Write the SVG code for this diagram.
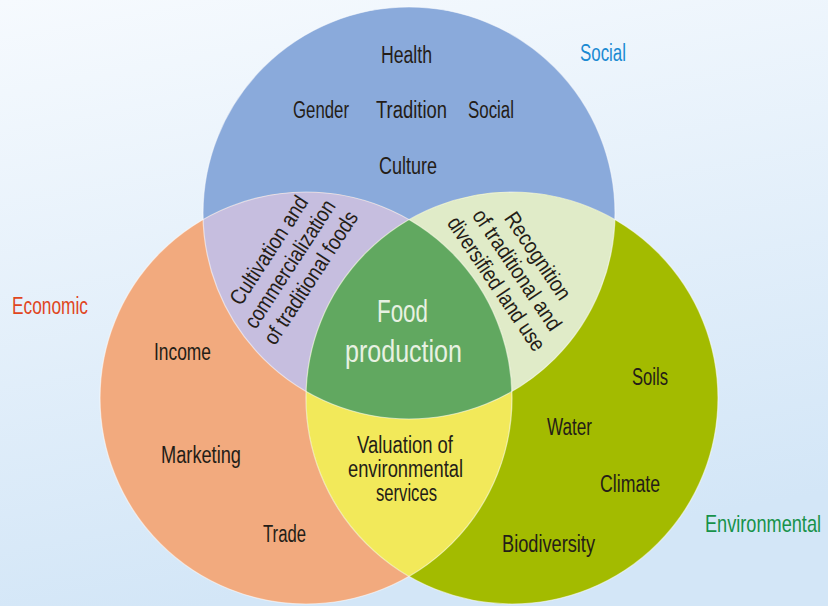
<svg xmlns="http://www.w3.org/2000/svg" width="828" height="606" viewBox="0 0 828 606">
<defs>
<linearGradient id="bg" x1="0" y1="0" x2="0.25" y2="1">
<stop offset="0" stop-color="#f6fafe"/>
<stop offset="1" stop-color="#d3e6f7"/>
</linearGradient>
<clipPath id="cTop"><circle cx="409" cy="213" r="206"/></clipPath>
<clipPath id="cLeft"><circle cx="306" cy="398" r="206"/></clipPath>
<clipPath id="cRight"><circle cx="512" cy="398" r="206"/></clipPath>
<style>
text{font-family:"Liberation Sans Narrow","Liberation Sans",Arial,sans-serif;font-size:23px;fill:#241d17;text-anchor:middle}
.big{font-size:31px;fill:#e8f1e2}
.rot{font-size:22px}
.edge{fill:none;stroke:#ffffff;stroke-opacity:0.55;stroke-width:1.2}
</style>
</defs>
<rect width="828" height="606" fill="url(#bg)"/>

<g id="social">
<circle cx="409" cy="213" r="206" fill="#8aaadb"/>
<text x="406.5" y="63" textLength="51" lengthAdjust="spacingAndGlyphs">Health</text>
<text x="321" y="118" textLength="56" lengthAdjust="spacingAndGlyphs">Gender</text>
<text x="411.5" y="118" textLength="71" lengthAdjust="spacingAndGlyphs">Tradition</text>
<text x="491" y="118" textLength="46" lengthAdjust="spacingAndGlyphs">Social</text>
<text x="408" y="174" textLength="58" lengthAdjust="spacingAndGlyphs">Culture</text>
</g>

<g id="economic">
<circle cx="306" cy="398" r="206" fill="#f2aa7e"/>
<text x="182.5" y="360" textLength="57" lengthAdjust="spacingAndGlyphs">Income</text>
<text x="201" y="463" textLength="80" lengthAdjust="spacingAndGlyphs">Marketing</text>
<text x="284.5" y="542" textLength="43" lengthAdjust="spacingAndGlyphs">Trade</text>
</g>

<g id="environmental">
<circle cx="512" cy="398" r="206" fill="#a3bb00"/>
<text x="650" y="385" textLength="36" lengthAdjust="spacingAndGlyphs">Soils</text>
<text x="569.5" y="435" textLength="45" lengthAdjust="spacingAndGlyphs">Water</text>
<text x="630" y="492" textLength="60" lengthAdjust="spacingAndGlyphs">Climate</text>
<text x="548.5" y="552" textLength="93" lengthAdjust="spacingAndGlyphs">Biodiversity</text>
</g>

<g id="social-economic">
<circle cx="306" cy="398" r="206" fill="#c6bedf" clip-path="url(#cTop)"/>
<g transform="translate(296,268) rotate(-57)">
<text class="rot" x="0" y="-25" textLength="125" lengthAdjust="spacingAndGlyphs">Cultivation and</text>
<text class="rot" x="0" y="0" textLength="148" lengthAdjust="spacingAndGlyphs">commercialization</text>
<text class="rot" x="0" y="25" textLength="154" lengthAdjust="spacingAndGlyphs">of traditional foods</text>
</g>
</g>

<g id="social-environmental">
<circle cx="512" cy="398" r="206" fill="#e0ebc8" clip-path="url(#cTop)"/>
<g transform="translate(511,274) rotate(56)">
<text class="rot" x="0" y="-25" textLength="101" lengthAdjust="spacingAndGlyphs">Recognition</text>
<text class="rot" x="0" y="0" textLength="141" lengthAdjust="spacingAndGlyphs">of traditional and</text>
<text class="rot" x="0" y="25" textLength="157" lengthAdjust="spacingAndGlyphs">diversified land use</text>
</g>
</g>

<g id="economic-environmental">
<circle cx="512" cy="398" r="206" fill="#f2e95a" clip-path="url(#cLeft)"/>
<text x="405" y="453" textLength="96" lengthAdjust="spacingAndGlyphs">Valuation of</text>
<text x="405.5" y="477" textLength="115" lengthAdjust="spacingAndGlyphs">environmental</text>
<text x="406.5" y="501" textLength="61" lengthAdjust="spacingAndGlyphs">services</text>
</g>

<g id="food-production">
<g clip-path="url(#cLeft)">
<circle cx="512" cy="398" r="206" fill="#61a860" clip-path="url(#cTop)"/>
</g>
<text class="big" x="402.5" y="322" textLength="51" lengthAdjust="spacingAndGlyphs">Food</text>
<text class="big" x="403.5" y="362" textLength="117" lengthAdjust="spacingAndGlyphs">production</text>
</g>

<g id="edges">
<circle class="edge" cx="409" cy="213" r="206"/>
<circle class="edge" cx="306" cy="398" r="206"/>
<circle class="edge" cx="512" cy="398" r="206"/>
</g>

<g id="labels">
<text x="603" y="61" textLength="46" lengthAdjust="spacingAndGlyphs" style="fill:#1a8ad2">Social</text>
<text x="50" y="314" textLength="76" lengthAdjust="spacingAndGlyphs" style="fill:#e0461e">Economic</text>
<text transform="translate(763,532) scale(0.79,1)" x="0" y="0" style="fill:#17924a">Environmental</text>
</g>

<g id="connectors"/>
</svg>
